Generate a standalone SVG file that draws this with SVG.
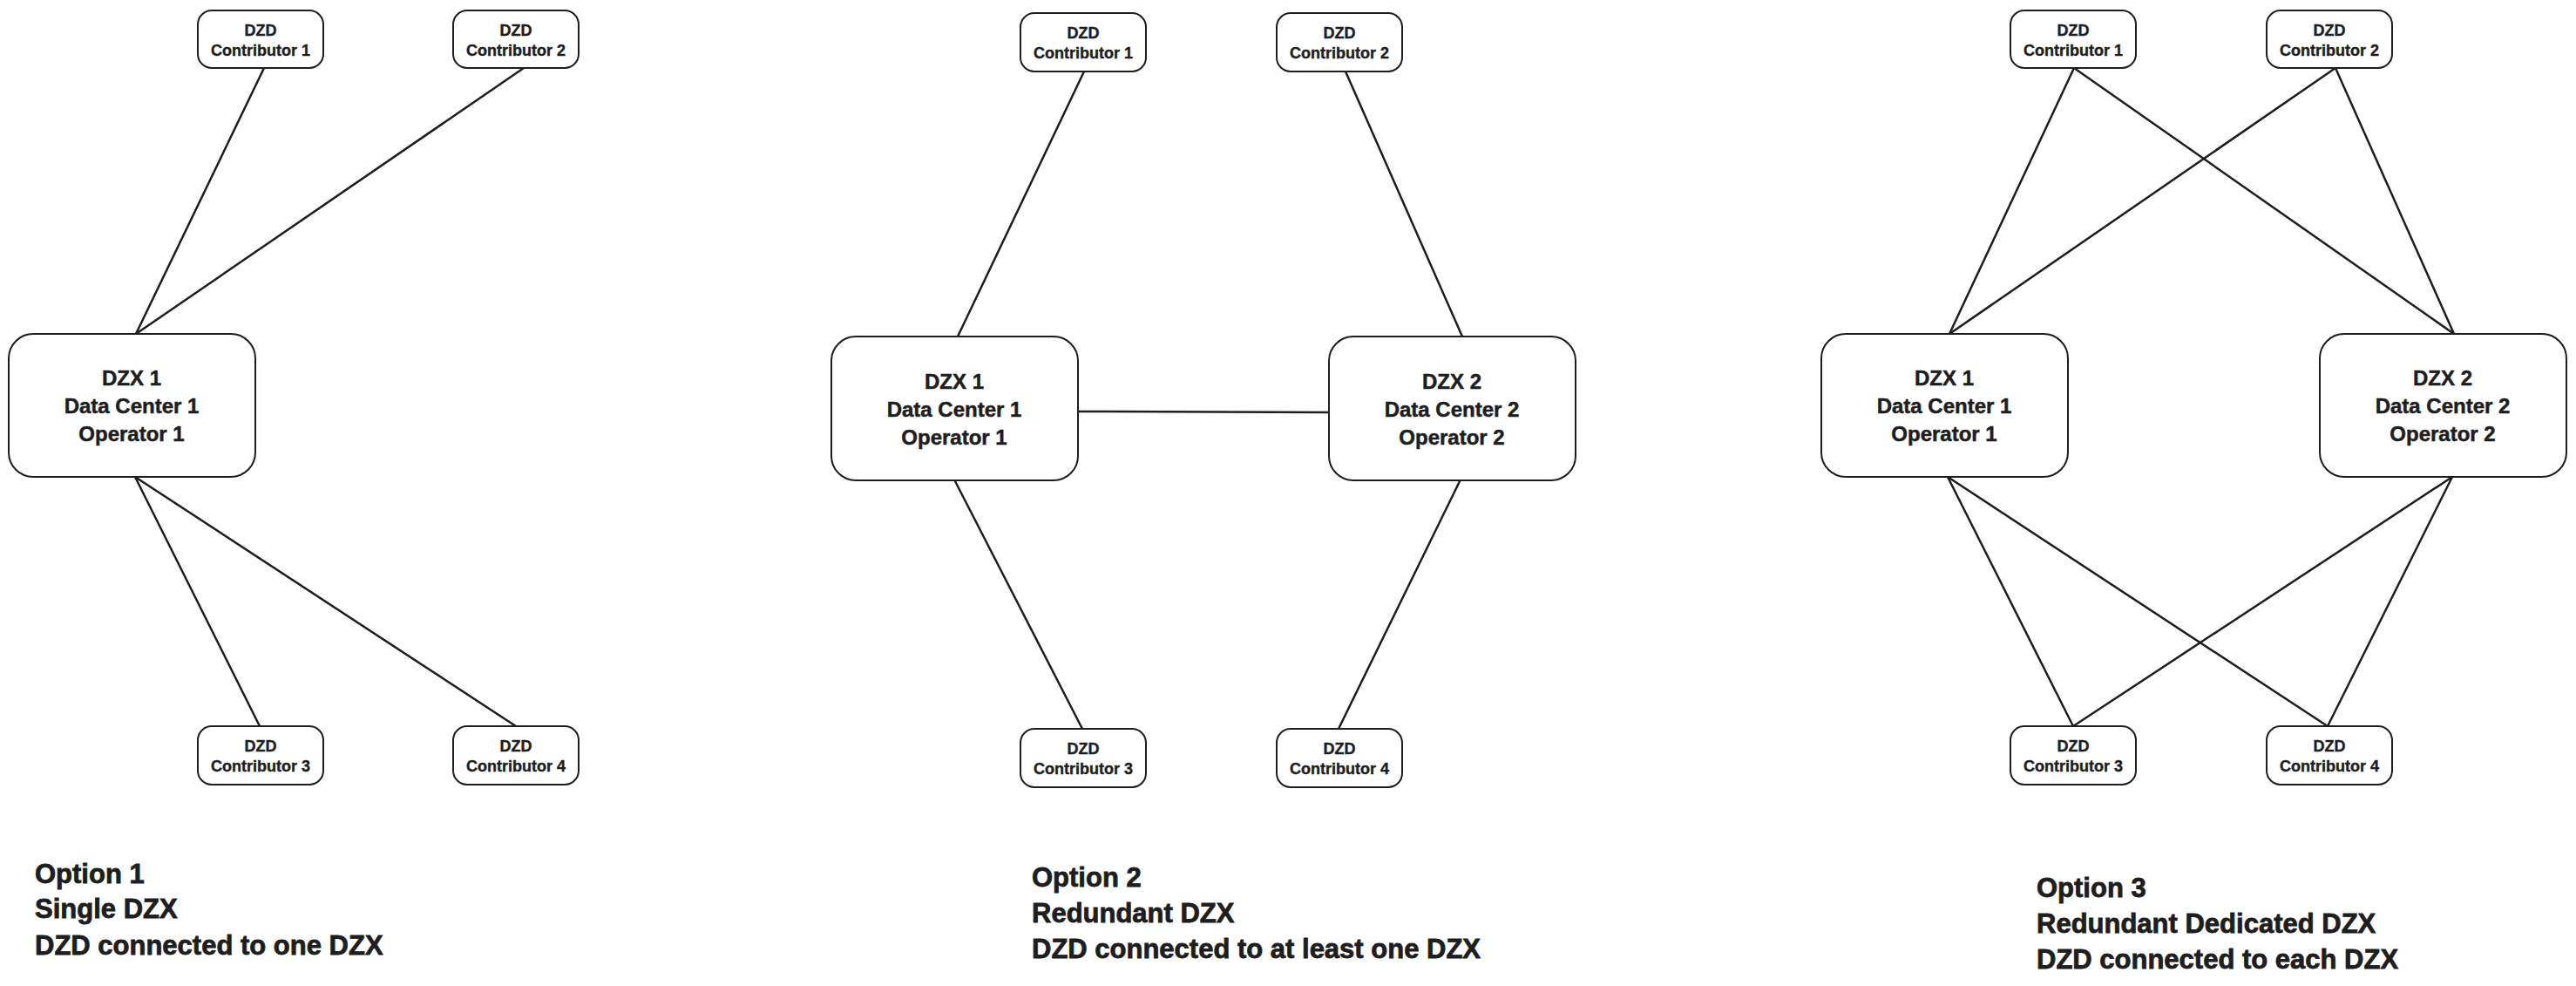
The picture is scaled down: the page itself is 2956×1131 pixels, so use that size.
<svg xmlns="http://www.w3.org/2000/svg" width="2956" height="1131" viewBox="0 0 2956 1131">
<style>
.bg{fill:#ffffff}
.box{fill:#ffffff;stroke:#1e1e1e;stroke-width:2}
.wire{stroke:#1e1e1e;stroke-width:2.5;fill:none;stroke-linecap:round}
text{font-family:"Liberation Sans Narrow","Liberation Sans",Arial,sans-serif;font-weight:bold;fill:#1e1e1e;stroke:#1e1e1e;stroke-width:0.5;text-anchor:middle}
.s{font-size:18px;stroke-width:0.4}
.l{font-size:24px}
.t{font-size:31px;text-anchor:start;stroke-width:0.8}
</style>
<rect class="bg" x="0" y="0" width="2956" height="1131"/>
<g id="connectors">
<line class="wire" x1="303" y1="78" x2="156" y2="383"/>
<line class="wire" x1="601" y1="78" x2="156" y2="383"/>
<line class="wire" x1="155" y1="547" x2="298" y2="833"/>
<line class="wire" x1="155" y1="547" x2="592" y2="833"/>
<line class="wire" x1="1244" y1="82" x2="1099" y2="386"/>
<line class="wire" x1="1544" y1="82" x2="1678" y2="386"/>
<line class="wire" x1="1237" y1="472" x2="1525" y2="473"/>
<line class="wire" x1="1095" y1="550" x2="1242" y2="836"/>
<line class="wire" x1="1676" y1="550" x2="1536" y2="836"/>
<line class="wire" x1="2380" y1="78" x2="2237" y2="383"/>
<line class="wire" x1="2380" y1="78" x2="2816" y2="383"/>
<line class="wire" x1="2680" y1="78" x2="2237" y2="383"/>
<line class="wire" x1="2680" y1="78" x2="2816" y2="383"/>
<line class="wire" x1="2235" y1="547" x2="2379" y2="833"/>
<line class="wire" x1="2235" y1="547" x2="2671" y2="833"/>
<line class="wire" x1="2814" y1="547" x2="2379" y2="833"/>
<line class="wire" x1="2814" y1="547" x2="2671" y2="833"/>
</g>
<!-- Option 1 -->
<g id="o1-c1"><rect class="box" x="227" y="12" width="144" height="66" rx="16"/><text class="s" x="299" y="41">DZD</text><text class="s" x="299" y="64">Contributor 1</text></g>
<g id="o1-c2"><rect class="box" x="520" y="12" width="144" height="66" rx="16"/><text class="s" x="592" y="41">DZD</text><text class="s" x="592" y="64">Contributor 2</text></g>
<g id="o1-dzx1"><rect class="box" x="10" y="383" width="283" height="164" rx="28"/><text class="l" x="151" y="442">DZX 1</text><text class="l" x="151" y="474">Data Center 1</text><text class="l" x="151" y="506">Operator 1</text></g>
<g id="o1-c3"><rect class="box" x="227" y="833" width="144" height="67" rx="16"/><text class="s" x="299" y="862">DZD</text><text class="s" x="299" y="885">Contributor 3</text></g>
<g id="o1-c4"><rect class="box" x="520" y="833" width="144" height="67" rx="16"/><text class="s" x="592" y="862">DZD</text><text class="s" x="592" y="885">Contributor 4</text></g>
<g id="o1-label"><text class="t" x="40" y="1013">Option 1</text><text class="t" x="40" y="1053">Single DZX</text><text class="t" x="40" y="1095">DZD connected to one DZX</text></g>
<!-- Option 2 -->
<g id="o2-c1"><rect class="box" x="1171" y="15" width="144" height="67" rx="16"/><text class="s" x="1243" y="44">DZD</text><text class="s" x="1243" y="67">Contributor 1</text></g>
<g id="o2-c2"><rect class="box" x="1465" y="15" width="144" height="67" rx="16"/><text class="s" x="1537" y="44">DZD</text><text class="s" x="1537" y="67">Contributor 2</text></g>
<g id="o2-dzx1"><rect class="box" x="954" y="386" width="283" height="165" rx="28"/><text class="l" x="1095" y="446">DZX 1</text><text class="l" x="1095" y="478">Data Center 1</text><text class="l" x="1095" y="510">Operator 1</text></g>
<g id="o2-dzx2"><rect class="box" x="1525" y="386" width="283" height="165" rx="28"/><text class="l" x="1666" y="446">DZX 2</text><text class="l" x="1666" y="478">Data Center 2</text><text class="l" x="1666" y="510">Operator 2</text></g>
<g id="o2-c3"><rect class="box" x="1171" y="836" width="144" height="67" rx="16"/><text class="s" x="1243" y="865">DZD</text><text class="s" x="1243" y="888">Contributor 3</text></g>
<g id="o2-c4"><rect class="box" x="1465" y="836" width="144" height="67" rx="16"/><text class="s" x="1537" y="865">DZD</text><text class="s" x="1537" y="888">Contributor 4</text></g>
<g id="o2-label"><text class="t" x="1184" y="1017">Option 2</text><text class="t" x="1184" y="1058">Redundant DZX</text><text class="t" x="1184" y="1099">DZD connected to at least one DZX</text></g>
<!-- Option 3 -->
<g id="o3-c1"><rect class="box" x="2307" y="12" width="144" height="66" rx="16"/><text class="s" x="2379" y="41">DZD</text><text class="s" x="2379" y="64">Contributor 1</text></g>
<g id="o3-c2"><rect class="box" x="2601" y="12" width="144" height="66" rx="16"/><text class="s" x="2673" y="41">DZD</text><text class="s" x="2673" y="64">Contributor 2</text></g>
<g id="o3-dzx1"><rect class="box" x="2090" y="383" width="283" height="164" rx="28"/><text class="l" x="2231" y="442">DZX 1</text><text class="l" x="2231" y="474">Data Center 1</text><text class="l" x="2231" y="506">Operator 1</text></g>
<g id="o3-dzx2"><rect class="box" x="2662" y="383" width="283" height="164" rx="28"/><text class="l" x="2803" y="442">DZX 2</text><text class="l" x="2803" y="474">Data Center 2</text><text class="l" x="2803" y="506">Operator 2</text></g>
<g id="o3-c3"><rect class="box" x="2307" y="833" width="144" height="67" rx="16"/><text class="s" x="2379" y="862">DZD</text><text class="s" x="2379" y="885">Contributor 3</text></g>
<g id="o3-c4"><rect class="box" x="2601" y="833" width="144" height="67" rx="16"/><text class="s" x="2673" y="862">DZD</text><text class="s" x="2673" y="885">Contributor 4</text></g>
<g id="o3-label"><text class="t" x="2337" y="1029">Option 3</text><text class="t" x="2337" y="1070">Redundant Dedicated DZX</text><text class="t" x="2337" y="1111">DZD connected to each DZX</text></g>
</svg>
